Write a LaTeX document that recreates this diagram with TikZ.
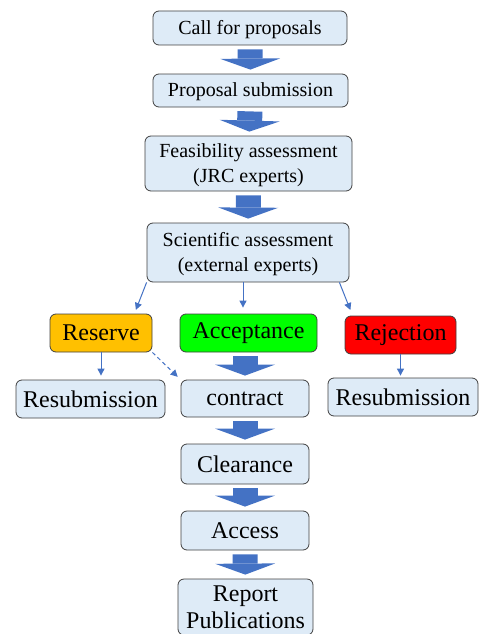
\documentclass[tikz,border=0pt]{standalone}
\usepackage{xcolor}
\usepackage{fontspec}
\setmainfont{Liberation Serif}
\usetikzlibrary{arrows.meta,positioning,calc}

\definecolor{boxfill}{HTML}{DEEBF7}
\definecolor{boxline}{HTML}{404040}
\definecolor{flowblue}{HTML}{4472C4}
\definecolor{reserveorange}{HTML}{FFC000}
\definecolor{acceptgreen}{HTML}{00FF00}
\definecolor{rejectred}{HTML}{FF0000}

\begin{document}
\begin{tikzpicture}[
    x=1pt, y=-1pt,
    box/.style={draw=boxline, fill=boxfill, line width=0.8pt, rounded corners=6pt,
      align=center, inner sep=0pt, text depth=1pt, font=\fontsize{20}{24.5}\selectfont},
    bigbox/.style={box, text depth=, font=\fontsize{24}{27}\selectfont},
    fat/.style={flowblue, line width=25pt,
      -{Triangle[length=11pt, width=60pt, line width=0pt]},
      shorten <=4pt, shorten >=4pt},
    arr/.style={flowblue, line width=1pt, -{Triangle[length=7pt, width=7pt]}}
  ]
    \useasboundingbox (0,0) rectangle (479,634);

    %% ---- Upper column: call and assessments ----
    \node[box, minimum width=194pt, minimum height=34pt] (call) at (250,28)   {Call for proposals};
    \node[box, minimum width=195pt, minimum height=33pt] (sub)  at (250.5,90.5) {Proposal submission};
    \node[box, minimum width=207pt, minimum height=55pt] (feas) at (248.5,163.5) {Feasibility assessment\\(JRC experts)};
    \node[box, minimum width=202pt, minimum height=59pt] (sci)  at (248,252.5) {Scientific assessment\\(external experts)};

    \draw[fat] (call) -- (sub);
    \draw[fat] (sub) -- (feas);
    \draw[fat] (feas) -- (sci);

    %% ---- Decision row ----
    \node[bigbox, fill=reserveorange, minimum width=102pt, minimum height=38pt] (reserve) at (101,333)   {Reserve};
    \node[bigbox, fill=acceptgreen,   minimum width=137pt, minimum height=38pt] (accept)  at (248.5,333) {Acceptance};
    \node[bigbox, fill=rejectred,     minimum width=111pt, minimum height=38pt] (reject)  at (400.5,335) {Rejection};

    \draw[arr, shorten >=4pt] (sci.south west) -- ([xshift=-18pt]reserve.north east);
    \draw[arr, shorten >=6pt] ([xshift=-5pt]sci.south) -- ([xshift=-5pt]sci.south |- accept.north);
    \draw[arr, shorten >=6pt] ([xshift=-10pt]sci.south east) -- ([xshift=8pt]reject.north west);

    %% ---- Outcome row ----
    \node[bigbox, minimum width=149pt, minimum height=38pt] (resubL)   at (90.5,399)  {Resubmission};
    \node[bigbox, minimum width=128pt, minimum height=37pt] (contract) at (245,398.5) {contract};
    \node[bigbox, minimum width=150pt, minimum height=38pt] (resubR)   at (403,397)   {Resubmission};

    \draw[arr, shorten >=4pt] (reserve.south) -- (reserve.south |- resubL.north);
    \draw[arr, shorten >=2pt] (reject.south) -- (reject.south |- resubR.north);
    % reserve may still move on to a contract
    \draw[arr, dash pattern=on 4pt off 3pt, shorten >=4pt] (reserve.south east) -- (contract.north west);
    \draw[fat] (contract.north |- accept.south) -- (contract.north);

    %% ---- Lower column: after the contract ----
    \node[bigbox, minimum width=128pt, minimum height=40pt] (clear)  at (245,464)   {Clearance};
    \node[bigbox, minimum width=128pt, minimum height=39pt] (access) at (245,530.5) {Access};
    \node[bigbox, minimum width=135pt, minimum height=56pt] (report) at (245.5,607) {Report\\Publications};

    \draw[fat] (contract) -- (clear);
    \draw[fat] (clear) -- (access);
    \draw[fat] (access) -- (report);
  \end{tikzpicture}
\end{document}
